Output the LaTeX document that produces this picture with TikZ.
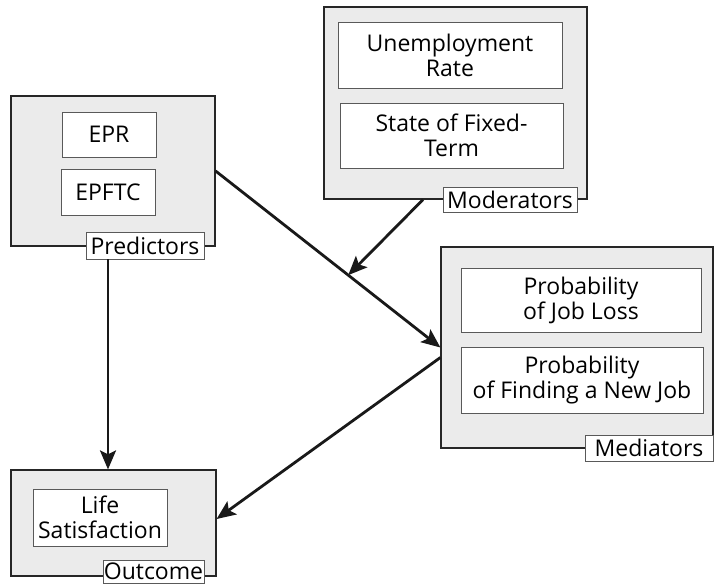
\documentclass[tikz,border=0pt]{standalone}
\usepackage{fontspec}
\setmainfont{Open Sans}
\usetikzlibrary{arrows.meta}

\begin{document}
\begin{tikzpicture}[x=1pt,y=-1pt,
		font=\fontsize{23}{25}\selectfont,
		group/.style={draw=black!85, fill=black!8, line width=1.2pt, inner sep=0pt},
		item/.style={draw=black!65, fill=white, line width=0.9pt, align=center, inner sep=0pt},
		tag/.style={draw=black!65, fill=white, line width=0.9pt, inner sep=0pt},
		arr/.style={-{Stealth[length=19pt,width=16pt,inset=4pt]}, line width=2.8pt, black!90}]
		\useasboundingbox (0,0) rectangle (714,585);

		% groups
		\node[group, minimum width=204pt, minimum height=150pt] (pred) at (113,171) {};
		\node[group, minimum width=263pt, minimum height=192pt] (mod) at (455.5,103) {};
		\node[group, minimum width=272pt, minimum height=201pt] (med) at (577,347.5) {};
		\node[group, minimum width=205pt, minimum height=106pt] (out) at (113.5,523) {};

		% items
		\node[item, minimum width=94pt, minimum height=45pt] (epr) at (109,134.5) {EPR};
		\node[item, minimum width=94pt, minimum height=46pt] (epftc) at (108,192) {EPFTC};
		\node[item, minimum width=224pt, minimum height=66pt] (unemp) at (450,55) {Unemployment\\Rate};
		\node[item, minimum width=223pt, minimum height=65pt] (fixed) at (451.5,135.5) {State of Fixed-\\Term};
		\node[item, minimum width=240pt, minimum height=64pt] (loss) at (581,300) {Probability\\of Job Loss};
		\node[item, minimum width=242pt, minimum height=66pt] (find) at (582,380) {Probability\\of Finding a New Job};
		\node[item, minimum width=134pt, minimum height=57pt] (life) at (100,517.5) {Life\\Satisfaction};

		% tags
		\node[tag, minimum width=118pt, minimum height=27pt] (predtag) at (145,245.5) {Predictors};
		\node[tag, minimum width=134pt, minimum height=25pt] (modtag) at (510,199.5) {Moderators};
		\node[tag, minimum width=128pt, minimum height=26pt] (medtag) at (649,448) {Mediators};
		\node[tag, minimum width=101pt, minimum height=23pt] (outtag) at (153.5,571.5) {Outcome};

		% paths
		\draw[arr] (pred.east) -- coordinate[pos=0.59] (hit) (med.west);
		\draw[arr] ([xshift=-32.5pt]mod.south) -- (hit);
		\draw[arr] (predtag.south -| epftc.south) -- (out.north -| epftc.south);
		\draw[arr] ([yshift=-10pt]med.west) -- ([yshift=4pt]out.east);

\end{tikzpicture}
\end{document}
